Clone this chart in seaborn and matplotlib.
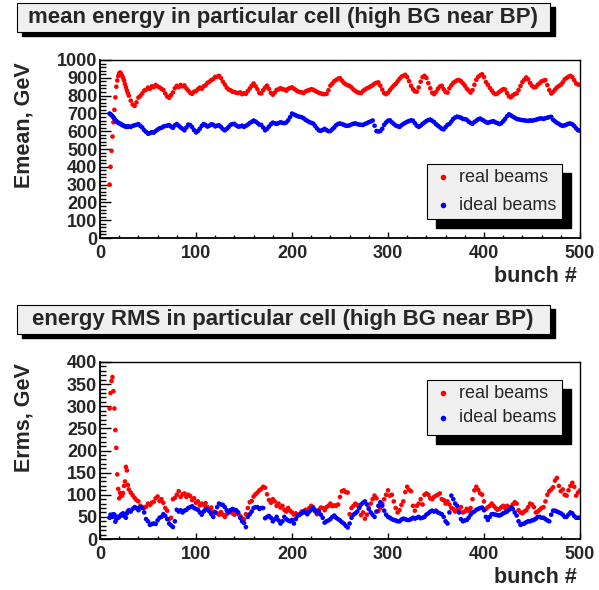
import numpy as np
import pandas as pd
import seaborn as sns
import matplotlib.pyplot as plt
from matplotlib.patches import Rectangle
from matplotlib.lines import Line2D
from matplotlib.ticker import MultipleLocator

# bunch numbers: every bunch at the start, then every second one
bunch = list(range(10, 30)) + list(range(30, 501, 2))

# mean energy, real beams
emean_real = [
    300, 400, 490, 570, 650, 720, 790, 850, 885, 910, 925, 930, 922, 912, 900, 885, 865, 848, 830, 815,
    800, 772, 750, 742, 762, 789, 798, 812, 828, 833,
    845, 838, 852, 848, 860, 852, 846, 838, 832, 812,
    795, 788, 802, 818, 842, 855, 848, 860, 852, 857,
    840, 828, 815, 810, 822, 825, 836, 845, 838, 852,
    858, 872, 878, 887, 893, 905, 906, 911, 898, 878,
    862, 845, 834, 830, 822, 820, 816, 814, 818, 808,
    813, 810, 826, 840, 855, 868, 853, 836, 815, 812,
    830, 845, 856, 838, 815, 805, 816, 832, 835, 842,
    836, 834, 828, 838, 843, 846, 839, 831, 824, 820,
    818, 815, 823, 828, 831, 836, 833, 827, 821, 816,
    812, 809, 808, 810, 830, 856, 868, 881, 888, 895,
    898, 884, 872, 864, 858, 854, 846, 834, 826, 819,
    816, 814, 826, 834, 841, 845, 852, 858, 867, 872,
    874, 856, 834, 814, 808, 816, 831, 844, 856, 866,
    880, 894, 906, 911, 917, 904, 881, 855, 836, 824,
    822, 846, 878, 904, 911, 899, 870, 841, 816, 808,
    820, 838, 851, 855, 836, 820, 817, 841, 858, 872,
    879, 886, 887, 881, 869, 856, 839, 829, 817, 831,
    861, 889, 906, 914, 920, 904, 876, 861, 844, 829,
    815, 808, 812, 821, 829, 836, 834, 814, 796, 790,
    801, 809, 812, 831, 854, 876, 889, 902, 891, 870,
    855, 846, 849, 861, 869, 880, 884, 887, 859, 831,
    812, 821, 834, 846, 854, 861, 874, 891, 899, 906,
    911, 904, 886, 868, 862, 860]

# mean energy, ideal beams
emean_ideal = [
    699, 696, 690, 684, 678, 670, 662, 657, 651, 648, 645, 641, 640, 635, 632, 630, 627, 626, 624, 627,
    627, 624, 630, 633, 636, 640, 630, 621, 606, 596,
    586, 589, 594, 592, 601, 609, 616, 619, 626, 629,
    631, 634, 626, 619, 633, 640, 631, 621, 613, 605,
    621, 637, 634, 623, 606, 593, 601, 614, 630, 640,
    634, 626, 631, 639, 636, 627, 631, 633, 624, 612,
    605, 613, 624, 636, 640, 641, 632, 626, 627, 631,
    624, 630, 637, 646, 652, 660, 654, 646, 637, 635,
    621, 605, 613, 626, 639, 648, 644, 641, 646, 650,
    647, 645, 649, 661, 679, 699, 694, 689, 684, 681,
    679, 673, 664, 658, 651, 647, 643, 630, 616, 605,
    602, 607, 613, 606, 600, 601, 611, 621, 634, 641,
    643, 640, 636, 631, 630, 633, 638, 642, 644, 640,
    637, 636, 635, 641, 645, 651, 655, 660, 631, 601,
    598, 601, 614, 636, 649, 659, 661, 650, 641, 632,
    628, 624, 633, 641, 647, 653, 657, 661, 659, 645,
    631, 624, 631, 641, 649, 657, 663, 665, 659, 651,
    639, 631, 622, 614, 610, 623, 636, 641, 654, 669,
    677, 682, 679, 676, 669, 668, 664, 654, 646, 642,
    651, 659, 667, 671, 664, 658, 651, 647, 651, 654,
    656, 649, 646, 640, 645, 656, 669, 684, 695, 689,
    682, 676, 669, 666, 664, 662, 661, 659, 658, 661,
    659, 662, 664, 668, 671, 672, 669, 673, 676, 679,
    681, 664, 655, 647, 641, 634, 630, 633, 637, 642,
    643, 639, 629, 616, 605, 604]

# energy RMS, real beams
erms_real = [
    295, 330, 357, 366, 334, 295, 246, 206, 146, 113, 92, 104, 100, 98, 104, 120, 130, 163, 155, 122,
    112, 105, 99, 93, 88, 85, 75, 72, 70, 73,
    80, 77, 82, 84, 92, 96, 86, 90, 82, 70,
    64, 45, 48, 90, 93, 100, 108, 95, 101, 103,
    95, 100, 97, 88, 92, 82, 85, 76, 80, 77,
    81, 72, 68, 71, 62, 60, 58, 55, 61, 55,
    50, 56, 62, 65, 58, 55, 61, 56, 52, 47,
    44, 56, 70, 83, 86, 96, 101, 105, 110, 113,
    118, 116, 101, 88, 82, 90, 85, 75, 80, 71,
    75, 66, 62, 70, 64, 60, 55, 58, 53, 56,
    62, 60, 66, 64, 70, 75, 72, 62, 56, 66,
    71, 70, 65, 72, 75, 80, 74, 76, 75, 78,
    95, 108, 110, 106, 105, 56, 70, 75, 80, 77,
    72, 54, 60, 46, 55, 70, 80, 90, 98, 92,
    63, 70, 80, 90, 100, 110, 98, 100, 85, 70,
    60, 65, 77, 85, 106, 118, 111, 108, 75, 64,
    75, 80, 90, 78, 100, 103, 100, 92, 90, 95,
    98, 100, 103, 90, 88, 80, 85, 78, 70, 68,
    62, 66, 64, 72, 60, 62, 68, 64, 70, 90,
    110, 118, 111, 103, 100, 85, 68, 72, 75, 80,
    75, 70, 66, 68, 72, 75, 70, 75, 68, 72,
    78, 83, 80, 65, 60, 58, 62, 65, 72, 80,
    78, 72, 60, 62, 66, 70, 72, 85, 100, 108,
    112, 117, 132, 138, 120, 108, 112, 100, 98, 110,
    120, 127, 118, 98, 105, 110]

# energy RMS, ideal beams
erms_ideal = [
    48, 55, 52, 50, 56, 55, 39, 45, 50, 48, 50, 52, 55, 56, 58, 52, 56, 48, 58, 62,
    65, 62, 68, 72, 70, 65, 72, 70, 60, 45,
    40, 32, 34, 35, 34, 42, 48, 50, 56, 52,
    45, 35, 31, 27, 40, 66, 62, 65, 60, 64,
    66, 70, 72, 74, 70, 68, 66, 60, 55, 62,
    68, 66, 62, 56, 50, 60, 72, 80, 78, 77,
    72, 65, 60, 65, 68, 66, 65, 60, 48, 40,
    36, 27, 50, 56, 62, 70, 72, 72, 68, 70,
    70, 47, 50, 52, 48, 40, 45, 50, 42, 35,
    40, 50, 45, 42, 40, 43, 35, 45, 53, 55,
    58, 62, 60, 56, 62, 66, 70, 65, 60, 62,
    55, 48, 37, 40, 42, 45, 50, 53, 48, 45,
    42, 38, 35, 30, 26, 35, 48, 55, 58, 62,
    70, 78, 82, 85, 78, 68, 60, 55, 50, 62,
    75, 83, 75, 64, 55, 50, 48, 45, 43, 42,
    40, 40, 44, 46, 45, 43, 43, 45, 48, 46,
    48, 50, 47, 48, 50, 55, 58, 62, 64, 62,
    64, 60, 58, 56, 50, 40, 35, 60, 98, 90,
    80, 75, 60, 45, 40, 42, 43, 48, 55, 60,
    62, 66, 68, 70, 71, 65, 50, 43, 50, 56,
    56, 55, 54, 53, 55, 58, 60, 62, 66, 71,
    68, 60, 53, 40, 32, 34, 35, 38, 40, 40,
    42, 43, 46, 50, 50, 48, 48, 45, 42, 40,
    55, 64, 64, 62, 60, 58, 55, 50, 50, 55,
    60, 58, 52, 48, 48, 48]

labels = ["real beams", "ideal beams"]
colors = {"real beams": "#ff0000", "ideal beams": "#0000ff"}

sns.set_style("white")
plt.rcParams["font.family"] = ["Liberation Sans", "DejaVu Sans"]

W, H = 599, 590


def fbox(x0, y0, x1, y1):
    return [x0 / W, 1 - y1 / H, (x1 - x0) / W, (y1 - y0) / H]


def long_df(real, ideal, name):
    d1 = pd.DataFrame({"bunch": bunch, name: real, "beams": labels[0]})
    d2 = pd.DataFrame({"bunch": bunch, name: ideal, "beams": labels[1]})
    return pd.concat([d1, d2], ignore_index=True)


fig = plt.figure(figsize=(W / 100, H / 100), dpi=100)
fig.patch.set_facecolor("white")

ax1 = fig.add_axes(fbox(100, 60, 580, 238))
ax2 = fig.add_axes(fbox(100, 362, 580, 539))

panels = [
    (ax1, long_df(emean_real, emean_ideal, "Emean"), "Emean", 1000, 100, 20),
    (ax2, long_df(erms_real, erms_ideal, "Erms"), "Erms", 400, 50, 10),
]

for ax, df, col, ymax, ymaj, ymin in panels:
    sns.scatterplot(data=df, x="bunch", y=col, hue="beams", palette=colors,
                    s=11, linewidth=0, legend=False, ax=ax, zorder=3)
    ax.set_xlim(0, 500)
    ax.set_ylim(0, ymax)
    ax.set_xlabel("")
    ax.set_ylabel("")
    ax.xaxis.set_major_locator(MultipleLocator(100))
    ax.xaxis.set_minor_locator(MultipleLocator(20))
    ax.yaxis.set_major_locator(MultipleLocator(ymaj))
    ax.yaxis.set_minor_locator(MultipleLocator(ymin))
    ax.tick_params(which="both", direction="in", bottom=True, left=True,
                   top=False, right=False, width=1, color="black")
    ax.tick_params(axis="y", which="major", length=8, pad=2)
    ax.tick_params(axis="y", which="minor", length=4.3)
    ax.tick_params(axis="x", which="major", length=4.5, pad=5)
    ax.tick_params(axis="x", which="minor", length=2.3)
    for lab in ax.get_xticklabels() + ax.get_yticklabels():
        lab.set_fontsize(13)
        lab.set_fontweight("bold")
    for sp in ax.spines.values():
        sp.set_linewidth(1.0)
        sp.set_color("black")
        sp.set_visible(True)
    ax.spines["bottom"].set_linewidth(1.3)
    ax.spines["left"].set_linewidth(1.3)
    ax.grid(False)


def shadow_box(x0, y0, x1, y1, dx, dy):
    fig.add_artist(Rectangle((x0 / W + dx / W, 1 - y1 / H - dy / H), (x1 - x0) / W, (y1 - y0) / H,
                             transform=fig.transFigure, facecolor="black", edgecolor="black", zorder=5))
    fig.add_artist(Rectangle((x0 / W, 1 - y1 / H), (x1 - x0) / W, (y1 - y0) / H,
                             transform=fig.transFigure, facecolor="#f0f0f0", edgecolor="black",
                             linewidth=0.8, zorder=6))


# titles
shadow_box(17, 3, 550, 32, 5, 4)
fig.text(283 / W, 1 - 18 / H, "mean energy in particular cell (high BG near BP)",
         ha="center", va="center", fontsize=16, fontweight="bold", zorder=7)
shadow_box(17, 305, 550, 334, 5, 4)
fig.text(283 / W, 1 - 320 / H, "energy RMS in particular cell (high BG near BP)",
         ha="center", va="center", fontsize=16, fontweight="bold", zorder=7)

# axis titles
fig.text(24 / W, 1 - 62 / H, "Emean, GeV", rotation=90, ha="center", va="top",
         fontsize=15.5, fontweight="bold")
fig.text(24 / W, 1 - 363 / H, "Erms, GeV", rotation=90, ha="center", va="top",
         fontsize=15.5, fontweight="bold")
fig.text(577 / W, 1 - 266 / H, "bunch #", ha="right", va="top", fontsize=15.5, fontweight="bold")
fig.text(577 / W, 1 - 567 / H, "bunch #", ha="right", va="top", fontsize=15.5, fontweight="bold")

# legends
for top, y_real, y_ideal in [(164, 177, 205), (380, 393, 418)]:
    shadow_box(427, top, 562, top + 55, 9, 9)
    for lab, yy in [(labels[0], y_real), (labels[1], y_ideal)]:
        fig.add_artist(Line2D([443 / W], [1 - yy / H], marker="o", markersize=3, linestyle="",
                              color=colors[lab], transform=fig.transFigure, zorder=7))
        fig.text(459 / W, 1 - yy / H, lab, ha="left", va="center", fontsize=13, zorder=7)

fig.savefig("out.png", dpi=100)
